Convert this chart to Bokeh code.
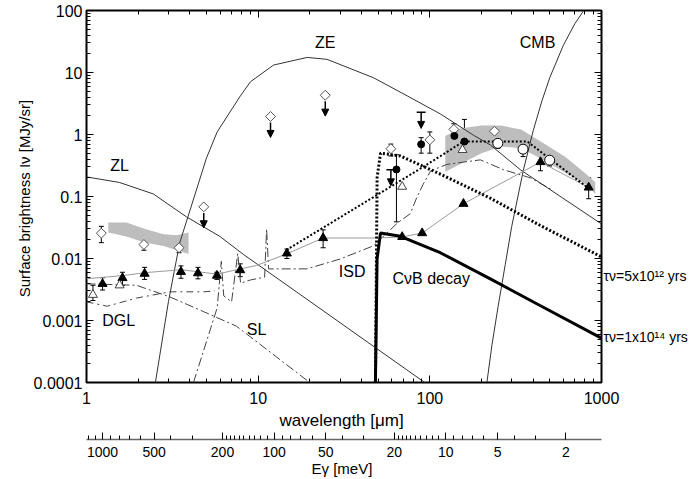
import numpy as np
from bokeh.plotting import figure
from bokeh.models import (ColumnDataSource, Range1d, LogScale, LogAxis, LinearAxis,
                          FixedTicker, PrintfTickFormatter, CustomJSTickFormatter, Whisker,
                          TeeHead, Arrow, NormalHead, Label)
from bokeh.embed import file_html
from bokeh.resources import INLINE

FONT = "Liberation Sans"

# ---------------- tick values / texts ----------------
x_major = [1, 10, 100, 1000]
y_major = [1e-4, 1e-3, 1e-2, 1e-1, 1, 10, 100]
e_major = [1000, 500, 200, 100, 50, 20, 10, 5, 2]
e_minor = [1200, 1100, 900, 800, 700, 600, 400, 300, 190, 180, 170, 160, 150, 140,
           130, 120, 110, 90, 80, 70, 60, 40, 30, 19, 18, 17, 16, 15, 14, 13, 12, 11,
           9, 8, 7, 6, 4, 3]
HC = 1239.84  # meV * um
right_labels = ["\u03c4\u03bd=5x10\u00b9\u00b2 yrs", "\u03c4\u03bd=1x10\u00b9\u2074 yrs"]
right_label_pos = [0.0053, 5.5e-4]

# ---------------- model curves (wavelength um, MJy/sr) ----------------
zl_wl = [1, 1.56, 2.45, 3.82, 5.97, 8.18, 92, 100]
zl_v = [0.207, 0.168, 0.110, 0.047, 0.0228, 0.0117, 1.03e-4, 8.6e-5]

ze_wl = [2.52, 3.0, 3.49, 5.0, 5.77, 7.88, 9.02, 12.3, 19.3, 25.2, 47.1, 73.8, 115, 180, 225, 337, 986, 1000]
ze_v = [1e-4, 0.002, 0.0178, 0.418, 1.1, 4.2, 7.1, 13.2, 17.5, 16.3, 8.2, 4.2, 2.15, 0.97, 0.68, 0.27, 0.037, 0.036]

cmb_wl = [215, 230, 250, 275, 300, 350, 400, 450, 500, 600, 700, 780, 820]
cmb_v = [1e-4, 4e-4, 1.7e-3, 8e-3, 0.033, 0.26, 1.15, 3.5, 8.3, 27.6, 61.5, 96, 120]

dgl_wl = [1, 1.955, 3.06, 4.78, 7.47, 19.7, 21]
dgl_v = [0.0039, 0.0037, 0.0024, 0.0014, 8.1e-4, 1.03e-4, 9e-5]

flat_wl = [1, 1.32, 1.955, 3.06, 4.8, 5.6]
flat_v = [0.0020, 0.0017, 0.0023, 0.0029, 0.0029, 0.0030]

isd_wl = [4.2, 5.77, 6.1, 6.3, 7.0, 7.6, 7.9, 9.0, 10.9, 11.2, 11.5, 19.2, 30, 46.9,
          64.5, 77, 84, 91.5, 101, 126, 197, 269, 385, 505]
isd_v = [1e-4, 0.0016, 0.009, 0.0025, 0.002, 0.012, 0.004, 0.0045, 0.005, 0.03, 0.0068,
         0.0068, 0.0098, 0.016, 0.037, 0.053, 0.097, 0.158, 0.258, 0.33, 0.39, 0.27, 0.2, 0.132]

cvb14_wl = [48.2, 49.3, 51.6, 67.4, 115, 225, 441, 986, 1000]
cvb14_v = [1e-4, 0.0099, 0.0257, 0.0228, 0.0124, 0.0047, 0.00173, 5.3e-4, 5.2e-4]

cvb5_wl = [48.2, 49.3, 51.6, 67.4, 115, 225, 441, 1000]
cvb5_v = [1e-4, 0.2, 0.5, 0.45, 0.23, 0.094, 0.034, 0.0106]

tot_wl = [14.6, 95, 157, 370, 828]
tot_v = [0.0137, 0.32, 0.77, 0.77, 0.14]

gray_wl = [1, 1.62, 2.18, 3.57, 4.47, 5.78, 7.86, 9.76, 14.7, 23.9, 49.3, 69, 90.2, 157, 441, 842]
gray_v = [0.0047, 0.0053, 0.0059, 0.0066, 0.0061, 0.0056, 0.0068, 0.0077, 0.0119, 0.0214,
          0.0214, 0.0223, 0.0257, 0.0764, 0.36, 0.14]

# shaded bands
bandL_wl = [1.34, 1.71, 2.15, 2.81, 3.34, 3.93]
bandL_hi = [0.038, 0.038, 0.0305, 0.0245, 0.0237, 0.0263]
bandL_lo = [0.0263, 0.0227, 0.0183, 0.0159, 0.0137, 0.0118]

bandR_wl = [123, 150, 200, 260, 340, 450, 620, 830, 920]
bandR_hi = [0.95, 1.25, 1.4, 1.4, 1.2, 0.75, 0.43, 0.22, 0.17]
bandR_lo = [0.25, 0.33, 0.5, 0.64, 0.6, 0.4, 0.24, 0.15, 0.11]

# ---------------- data points ----------------
tri_wl = [1.24, 1.62, 2.18, 3.55, 4.46, 5.75, 7.86, 14.7, 23.9, 69, 90.2, 157, 441, 842]
tri_v = [0.0039, 0.00485, 0.0057, 0.0061, 0.0058, 0.0053, 0.0065, 0.0121, 0.0214, 0.0223, 0.0257, 0.0764, 0.36, 0.14]
tri_lo = [0.0031, 0.0037, 0.0046, 0.0048, 0.0047, 0.0046, 0.0051, 0.0100, 0.0149, 0.0223, 0.0257, 0.0764, 0.26, 0.092]
tri_hi = [0.0049, 0.0060, 0.0072, 0.0076, 0.0072, 0.0060, 0.0082, 0.0142, 0.029, 0.0223, 0.0257, 0.0764, 0.47, 0.20]

otri_wl = [1.09, 1.56, 69, 155]
otri_v = [0.0026, 0.0037, 0.144, 0.565]
otri_lo = [0.0021, 0.0037, 0.144, 0.565]
otri_hi = [0.0037, 0.0037, 0.144, 0.565]

dia_wl = [1.22, 2.16, 3.46, 59.3, 100, 138, 238]
dia_v = [0.0256, 0.0168, 0.0149, 0.59, 0.82, 1.21, 1.13]
dia_lo = [0.018, 0.0136, 0.0124, 0.45, 0.5, 0.97, 1.13]
dia_hi = [0.033, 0.0214, 0.0190, 0.70, 1.1, 1.49, 1.13]

dul_wl = [4.82, 11.8, 24.6]
dul_v = [0.068, 1.95, 4.3]

circ_wl = [63.9, 89, 139, 159]
circ_v = [0.273, 0.695, 0.95, 0.77]
circ_lo = [0.039, 0.5, 0.77, 0.47]
circ_hi = [0.47, 0.89, 1.17, 1.75]

ocirc_wl = [249, 349, 499]
ocirc_v = [0.72, 0.58, 0.385]
ocirc_lo = [0.60, 0.44, 0.31]
ocirc_hi = [0.865, 0.68, 0.445]

ul_wl = [89, 59.3]
ul_v = [2.28, 0.27]

# ---------------- figure ----------------
p = figure(width=695, height=479, x_axis_type="log", y_axis_type="log",
           x_range=Range1d(1, 1000), y_range=Range1d(1e-4, 100),
           output_backend="svg", toolbar_location=None,
           min_border_left=86, min_border_right=94, min_border_top=10, min_border_bottom=90)
p.grid.visible = False
p.outline_line_color = "black"
p.outline_line_width = 2
p.background_fill_color = "white"
p.border_fill_color = "white"

x_minor = [m * 10 ** k for k in range(0, 3) for m in range(2, 10)]
y_minor = [m * 10.0 ** k for k in range(-4, 2) for m in range(2, 10)]

BLANK = CustomJSTickFormatter(code="return '';")


def style_axis(ax, labels=True, size="16px"):
    ax.axis_line_color = None
    ax.major_tick_in = 7
    ax.major_tick_out = 0
    ax.minor_tick_in = 4
    ax.minor_tick_out = 0
    ax.major_tick_line_color = "black"
    ax.minor_tick_line_color = "black"
    ax.major_label_text_font = FONT
    ax.major_label_text_color = "black"
    ax.axis_label_text_color = "black"
    ax.axis_label_text_font = FONT
    ax.axis_label_text_font_style = "normal"
    if labels:
        ax.formatter = PrintfTickFormatter(format="%g")
        ax.major_label_text_font_size = size
    else:
        ax.formatter = BLANK
        ax.major_label_standoff = 0


xax = p.xaxis[0]
xax.ticker = FixedTicker(ticks=x_major, minor_ticks=x_minor)
style_axis(xax)
xax.major_label_standoff = 9
xax.axis_label = "wavelength  [\u03bcm]"
xax.axis_label_text_font_size = "17px"
xax.axis_label_standoff = 4

yax = p.yaxis[0]
yax.ticker = FixedTicker(ticks=y_major, minor_ticks=y_minor)
style_axis(yax)
yax.major_label_standoff = 4
yax.axis_label = "Surface brightness  I\u03bd [MJy/sr]"
yax.axis_label_text_font_size = "15px"
yax.axis_label_standoff = -2

top_ax = LogAxis(ticker=FixedTicker(ticks=x_major, minor_ticks=x_minor))
style_axis(top_ax, labels=False)
p.add_layout(top_ax, "above")
right_ax = LogAxis(ticker=FixedTicker(ticks=y_major, minor_ticks=y_minor))
style_axis(right_ax, labels=False)
p.add_layout(right_ax, "right")

# right-hand lifetime labels
lab_ax = LogAxis(ticker=FixedTicker(ticks=right_label_pos),
                 formatter=CustomJSTickFormatter(args=dict(labs=right_labels),
                                                 code="return tick > 0.002 ? labs[0] : labs[1];"),
                 axis_line_color=None, major_tick_line_color=None, minor_tick_line_color=None,
                 major_tick_in=0, major_tick_out=0, minor_tick_in=0, minor_tick_out=0,
                 major_label_standoff=2, major_label_text_font=FONT,
                 major_label_text_font_size="14px", major_label_text_color="black")
p.add_layout(lab_ax, "right")

spacer = LinearAxis(ticker=FixedTicker(ticks=[]), major_tick_in=0, major_tick_out=0,
                    minor_tick_in=0, minor_tick_out=0, axis_line_color=None,
                    formatter=BLANK, major_label_standoff=0,
                    axis_label=" ", axis_label_text_font_size="1px", axis_label_standoff=3)
p.add_layout(spacer, "below")

p.extra_x_ranges = {"E": Range1d(HC / 1.0, HC / 1000.0)}
p.extra_x_scales = {"E": LogScale()}
eax = LogAxis(x_range_name="E", ticker=FixedTicker(ticks=e_major, minor_ticks=e_minor))
style_axis(eax, size="14px")
eax.axis_line_color = "#666666"
eax.axis_line_width = 1.5
eax.major_label_standoff = 7
eax.axis_label = "E\u03b3  [meV]"
eax.axis_label_text_font_size = "15px"
eax.axis_label_standoff = 0
p.add_layout(eax, "below")

# ---------------- bands ----------------
p.varea(x=bandL_wl, y1=bandL_lo, y2=bandL_hi, fill_color="#bdbdbd")
p.varea(x=bandR_wl, y1=bandR_lo, y2=bandR_hi, fill_color="#bdbdbd")

# ---------------- model lines ----------------
p.line(dgl_wl, dgl_v, line_color="#444444", line_width=1, line_dash="9 3 2 3")
p.line(flat_wl, flat_v, line_color="#444444", line_width=1, line_dash="7 4 2 4")
p.line(isd_wl, isd_v, line_color="#444444", line_width=1, line_dash="9 3 2 3")
p.line(zl_wl, zl_v, line_color="#333333", line_width=1)
p.line(ze_wl, ze_v, line_color="#333333", line_width=1)
p.line(cmb_wl, cmb_v, line_color="#333333", line_width=1)
p.line(gray_wl, gray_v, line_color="#9a9a9a", line_width=1)
p.line(tot_wl, tot_v, line_color="black", line_width=2, line_dash="2 2")
p.line(cvb5_wl, cvb5_v, line_color="black", line_width=3, line_dash="2 2")
p.line(cvb14_wl, cvb14_v, line_color="black", line_width=3)


# ---------------- error bars ----------------
def whisk(wl, lo, hi):
    src = ColumnDataSource(dict(x=wl, lo=lo, hi=hi))
    w = Whisker(base="x", lower="lo", upper="hi", source=src, dimension="height",
                line_color="black", line_width=1,
                lower_head=TeeHead(size=5, line_color="black", line_width=1),
                upper_head=TeeHead(size=5, line_color="black", line_width=1))
    p.add_layout(w)


whisk(tri_wl, tri_lo, tri_hi)
whisk(otri_wl, otri_lo, otri_hi)
whisk(dia_wl, dia_lo, dia_hi)
whisk(circ_wl, circ_lo, circ_hi)
whisk(ocirc_wl, ocirc_lo, ocirc_hi)

# upper-limit arrows
dsrc = ColumnDataSource(dict(x=dul_wl, y0=[v * 0.8 for v in dul_v], y1=[v * 0.46 for v in dul_v]))
p.add_layout(Arrow(x_start="x", y_start="y0", x_end="x", y_end="y1", source=dsrc,
                   line_color="black", line_width=1.5,
                   end=NormalHead(size=7, fill_color="black", line_color="black")))
usrc = ColumnDataSource(dict(x=ul_wl, y0=ul_v, y1=[v * 0.55 for v in ul_v]))
p.add_layout(Arrow(x_start="x", y_start="y0", x_end="x", y_end="y1", source=usrc,
                   line_color="black", line_width=1.5,
                   start=TeeHead(size=9, line_color="black", line_width=1.5),
                   end=NormalHead(size=7, fill_color="black", line_color="black")))

# ---------------- markers ----------------
p.scatter(tri_wl, tri_v, marker="triangle", size=9, fill_color="black", line_color="black")
p.scatter(otri_wl, otri_v, marker="triangle", size=9, fill_color="white", line_color="#444444")
p.scatter(dia_wl, dia_v, marker="square", angle=np.pi / 4, size=7, fill_color="white", line_color="#555555")
p.scatter(dul_wl, dul_v, marker="square", angle=np.pi / 4, size=7, fill_color="white", line_color="#555555")
p.scatter(circ_wl, circ_v, marker="circle", size=7, fill_color="black", line_color="black")
p.scatter(ocirc_wl, ocirc_v, marker="circle", size=10, fill_color="white", line_color="black", line_width=1)


# ---------------- in-plot text labels ----------------
def lab(x, y, t, size="16px"):
    p.add_layout(Label(x=x, y=y, text=t, text_align="center", text_baseline="middle",
                       text_font=FONT, text_font_size=size, text_color="black"))


lab(1.56, 0.312, "ZL")
lab(24.6, 30.6, "ZE")
lab(424, 30.6, "CMB")
lab(1.54, 0.001, "DGL")
lab(9.78, 7.2e-4, "SL")
lab(35.3, 0.0061, "ISD")
lab(101.9, 0.00476, "C\u03bdB decay")

open("out.html", "w").write(file_html(p, INLINE))
